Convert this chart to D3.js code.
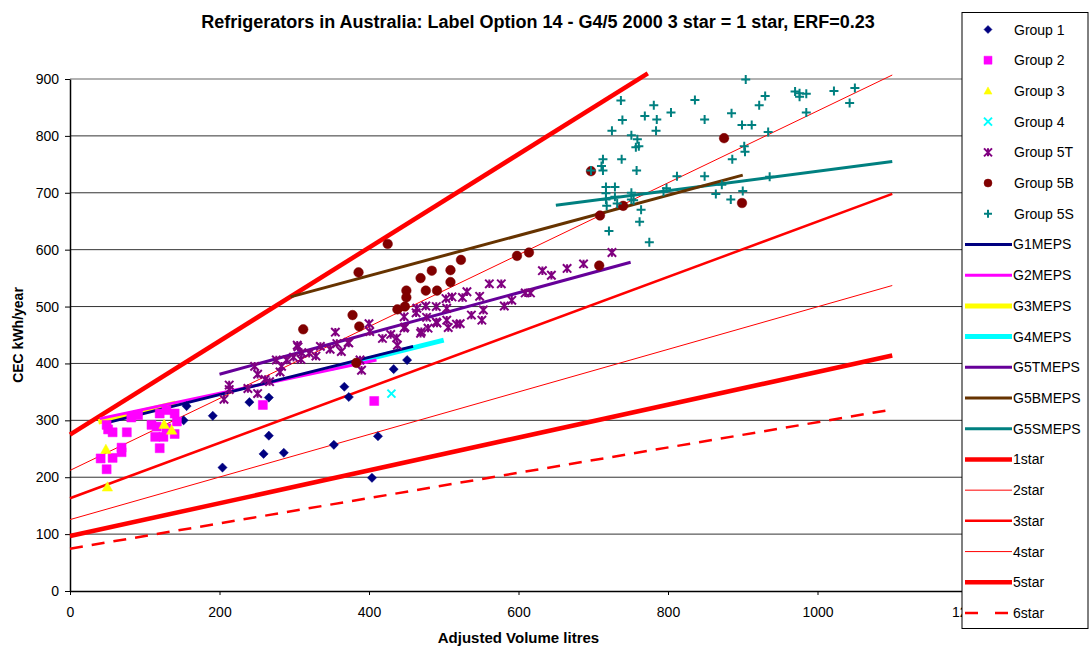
<!DOCTYPE html>
<html>
<head>
<meta charset="utf-8">
<script src="https://cdn.jsdelivr.net/npm/d3@7"></script>
<style>
  body { margin: 0; background: #fff; }
  svg { font-family: "Liberation Sans", Arial, sans-serif; }
</style>
</head>
<body>
<svg id="chart" width="1090" height="646"></svg>
<script>
// Scatter groups: [adjusted volume, CEC]
const group_1 = [[156,325],[152,300],[191,308],[204,217],[240,332],[266,340],[266,273],[259,241],[286,243],[353,257],[367,359],[373,341],[404,199],[412,272],[433,390],[451,406]];
const group_2 = [[49,292],[51,284],[57,279],[76,279],[82,305],[91,309],[69,252],[69,244],[57,234],[41,233],[49,214],[109,292],[116,289],[120,312],[129,318],[140,312],[143,298],[114,271],[125,271],[120,251],[140,276],[129,286],[258,327],[407,334]];
const group_3 = [[48,249],[50,183],[126,293],[136,283]];
const group_4 = [[430,347]];
const group_5t = [[213,362],[213,354],[206,337],[238,356],[251,347],[267,368],[247,395],[251,381],[276,406],[281,385],[290,406],[299,411],[305,429],[310,419],[309,407],[329,413],[348,425],[355,455],[357,435],[363,421],[373,436],[388,406],[390,388],[400,470],[401,456],[418,444],[429,451],[438,432],[447,482],[447,462],[463,489],[469,453],[477,481],[479,462],[491,471],[504,497],[504,476],[506,463],[517,469],[503,514],[511,517],[525,516],[531,526],[548,518],[561,540],[577,540],[537,485],[553,494],[551,476],[522,470],[581,501],[591,511],[609,524],[616,524],[632,563],[644,555],[665,567],[687,575],[725,595],[304,432],[372,437],[448,464],[476,501],[490,500],[490,473],[464,497],[470,456],[437,445],[320,418],[335,430],[283,395],[261,372]];
const group_5b = [[312,460],[378,485],[387,465],[383,401],[438,495],[448,500],[425,610],[386,560],[450,516],[450,528],[469,550],[476,528],[484,563],[491,528],[509,564],[509,543],[523,582],[598,589],[614,595],[708,572],[697,738],[709,660],[740,677],[875,796],[899,682]];
const group_5s = [[904,899],[737,862],[781,854],[836,863],[804,841],[739,828],[769,835],[785,829],[784,809],[725,809],[751,801],[759,794],[757,780],[761,782],[849,829],[885,840],[930,870],[922,854],[899,819],[912,819],[934,807],[970,878],[976,875],[985,874],[976,869],[985,841],[1022,879],[1050,884],[1043,858],[713,759],[711,747],[713,739],[697,739],[738,759],[758,739],[902,782],[903,772],[886,759],[812,729],[849,729],[936,728],[717,710],[729,710],[717,699],[729,693],[717,688],[718,677],[732,681],[751,700],[754,687],[751,688],[764,670],[762,649],[721,633],[775,613],[798,708],[794,702],[872,714],[864,698],[884,688],[900,703]];

// MEPS lines: [start, end]
const g1_meps = [[50,296],[459,430]];
const g2_meps = [[40,303],[410,406]];
const g3_meps = [[38,297],[141,330]];
const g4_meps = [[348,391],[500,441]];
const g5t_meps = [[200,381],[750,578]];
const g5b_meps = [[295,517],[900,731]];
const g5s_meps = [[650,678],[1100,755]];

// Star rating lines
const star_1 = [[0,275],[773,910]];
const star_2 = [[0,212],[1100,907]];
const star_3 = [[0,163],[1100,698]];
const star_4 = [[0,125.5],[1100,537]];
const star_5 = [[0,96.6],[1100,414]];
const star_6 = [[0,74.4],[1100,319]];

const x_ticks = [0,200,400,600,800,1000,1200];
const y_ticks = [0,100,200,300,400,500,600,700,800,900];

let svg = d3.select("#chart");

let x = d3.scaleLinear().domain([0, 1200]).range([70, 967]);
let y = d3.scaleLinear().domain([0, 900]).range([591, 79]);

// Marker shapes
let markers = {
  diamond: (r) => `M0,${-r}L${r},0L0,${r}L${-r},0Z`,
  square: (r) => `M${-r},${-r}h${2*r}v${2*r}h${-2*r}Z`,
  triangle: (r) => `M0,${-r}L${r},${r*0.8}L${-r},${r*0.8}Z`,
  circle: (r) => d3.symbol(d3.symbolCircle, Math.PI * r * r)(),
  cross: (r) => `M${-r},${-r}L${r},${r}M${r},${-r}L${-r},${r}`,
  star: (r) => `M${-r},${-r}L${r},${r}M${r},${-r}L${-r},${r}M0,${-r}L0,${r}`,
  plus: (r) => `M${-r},0L${r},0M0,${-r}L0,${r}`
};

let groups = [
  { name: "Group 1", data: group_1, shape: "diamond", r: 4.6, color: "#000080", filled: true },
  { name: "Group 2", data: group_2, shape: "square", r: 4.5, color: "#FF00FF", filled: true },
  { name: "Group 3", data: group_3, shape: "triangle", r: 5.2, color: "#FFFF00", filled: true },
  { name: "Group 4", data: group_4, shape: "cross", r: 4, color: "#00FFFF", filled: false },
  { name: "Group 5T", data: group_5t, shape: "star", r: 4.2, color: "#800080", filled: false },
  { name: "Group 5B", data: group_5b, shape: "circle", r: 4.8, color: "#800000", filled: true },
  { name: "Group 5S", data: group_5s, shape: "plus", r: 4.5, color: "#008080", filled: false }
];

let lines = [
  { name: "G1MEPS", data: g1_meps, color: "#000080", width: 3 },
  { name: "G2MEPS", data: g2_meps, color: "#FF00FF", width: 3 },
  { name: "G3MEPS", data: g3_meps, color: "#FFFF00", width: 5 },
  { name: "G4MEPS", data: g4_meps, color: "#00FFFF", width: 5 },
  { name: "G5TMEPS", data: g5t_meps, color: "#660099", width: 3 },
  { name: "G5BMEPS", data: g5b_meps, color: "#663300", width: 3 },
  { name: "G5SMEPS", data: g5s_meps, color: "#008080", width: 3 },
  { name: "1star", data: star_1, color: "#FF0000", width: 4.5 },
  { name: "2star", data: star_2, color: "#FF0000", width: 1 },
  { name: "3star", data: star_3, color: "#FF0000", width: 2.5 },
  { name: "4star", data: star_4, color: "#FF0000", width: 1 },
  { name: "5star", data: star_5, color: "#FF0000", width: 4.5 },
  { name: "6star", data: star_6, color: "#FF0000", width: 2.5, dash: "13,9" }
];

// Gridlines
svg.append("g")
  .selectAll("line")
  .data(y_ticks.filter((d) => d > 0))
  .join("line")
  .attr("x1", x(0))
  .attr("x2", x(1200))
  .attr("y1", (d) => y(d))
  .attr("y2", (d) => y(d))
  .style("stroke", (d) => (d == 900 ? "#999" : "#333"))
  .style("stroke-width", (d) => (d == 900 ? 1.5 : 1));

// Axes
let x_axis = svg.append("g")
  .attr("transform", `translate(0,${y(0)})`)
  .call(d3.axisBottom(x).tickValues(x_ticks).tickFormat(d3.format("d")).tickSize(4).tickPadding(12).tickSizeOuter(0));
let y_axis = svg.append("g")
  .attr("transform", `translate(${x(0)},0)`)
  .call(d3.axisLeft(y).tickValues(y_ticks).tickFormat(d3.format("d")).tickSize(5).tickPadding(6).tickSizeOuter(0));
[x_axis, y_axis].forEach((a) => {
  a.selectAll("text").style("font-size", "14px").style("fill", "#000")
    .style("font-family", "'Liberation Sans', Arial, sans-serif");
  a.selectAll("line").style("stroke", "#000");
  a.select(".domain").style("stroke", "#000").style("stroke-width", 1.5);
});

// Lines
let line_gen = d3.line().x((d) => x(d[0])).y((d) => y(d[1]));
let line_layer = svg.append("g");
lines.slice().reverse().forEach((l) => {
  line_layer.append("path")
    .attr("d", line_gen(l.data))
    .style("fill", "none")
    .style("stroke", l.color)
    .style("stroke-width", l.width)
    .style("stroke-dasharray", l.dash || null);
});

// Points
let draw_marker = (sel, g) => {
  sel.attr("d", markers[g.shape](g.r))
    .style("fill", g.filled ? g.color : "none")
    .style("stroke", g.color)
    .style("stroke-width", g.filled ? 0.5 : 2);
};
groups.forEach((g) => {
  svg.append("g")
    .selectAll("path")
    .data(g.data)
    .join("path")
    .attr("transform", (d) => `translate(${x(d[0])},${y(d[1])})`)
    .call(draw_marker, g);
});

// Titles
svg.append("text")
  .attr("x", 538)
  .attr("y", 28)
  .attr("text-anchor", "middle")
  .style("font-size", "18px")
  .style("font-weight", "bold")
  .text("Refrigerators in Australia: Label Option 14 - G4/5 2000 3 star = 1 star, ERF=0.23");

svg.append("text")
  .attr("x", (x(0) + x(1200)) / 2)
  .attr("y", 643)
  .attr("text-anchor", "middle")
  .style("font-size", "15px")
  .style("font-weight", "bold")
  .text("Adjusted Volume litres");

svg.append("text")
  .attr("transform", `translate(23,${(y(0) + y(900)) / 2}) rotate(-90)`)
  .attr("text-anchor", "middle")
  .style("font-size", "14px")
  .style("font-weight", "bold")
  .text("CEC kWh/year");

// Legend
let legend = svg.append("g");
legend.append("rect")
  .attr("x", 962)
  .attr("y", 12.5)
  .attr("width", 126)
  .attr("height", 616)
  .style("fill", "#fff")
  .style("stroke", "#000")
  .style("stroke-width", 1);

let entries = groups.map((g) => ({ name: g.name, group: g })).concat(lines.map((l) => ({ name: l.name, line: l })));
let row_step = (613 - 29.5) / (entries.length - 1);
entries.forEach((e, i) => {
  let ry = 29.5 + i * row_step;
  if (e.group) {
    legend.append("path")
      .attr("transform", `translate(988,${ry})`)
      .call(draw_marker, Object.assign({}, e.group, { r: Math.min(e.group.r, 4) }));
  } else {
    legend.append("line")
      .attr("x1", 965)
      .attr("x2", 1012)
      .attr("y1", ry)
      .attr("y2", ry)
      .style("stroke", e.line.color)
      .style("stroke-width", e.line.width)
      .style("stroke-dasharray", e.line.dash ? "13,17" : null);
  }
  legend.append("text")
    .attr("x", e.group ? 1014 : 1013)
    .attr("y", ry + 5)
    .style("font-size", "14px")
    .text(e.name);
});
</script>
</body>
</html>
